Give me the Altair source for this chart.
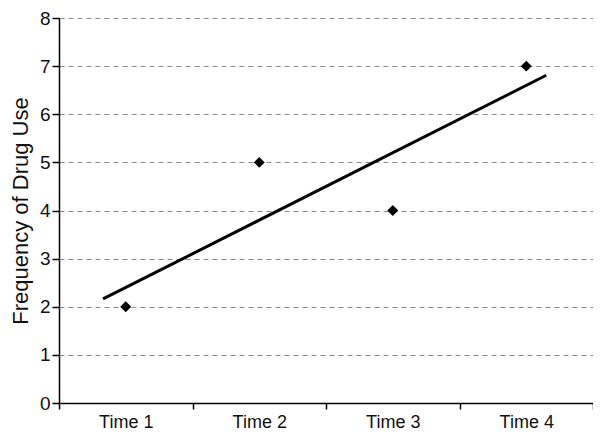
import altair as alt
import pandas as pd

times = ["Time 1", "Time 2", "Time 3", "Time 4"]
time_index = [1, 2, 3, 4]
freq = [2, 5, 4, 7]
y_ticks = [0, 1, 2, 3, 4, 5, 6, 7, 8]
trend_extent = [0.83, 4.15]

df = pd.DataFrame({"time": times, "t": time_index, "freq": freq})

FONT = "Liberation Sans"
y_scale = alt.Scale(domain=[0, 8], nice=False, zero=True)

y_axis = alt.Axis(
    values=y_ticks, title="Frequency of Drug Use", grid=True,
    gridDash=[5, 4], gridColor="#8a8a8a", gridWidth=1,
    tickSize=7, tickColor="black", tickWidth=1.5,
    domainColor="black", domainWidth=1.5,
    labelFontSize=19, labelFont=FONT, labelColor="#111111", labelPadding=2,
    titleFontSize=22, titleFont=FONT, titleFontWeight="normal",
    titleColor="#111111", titlePadding=7,
)

x_axis = alt.Axis(
    title=None, labelAngle=0, grid=False, tickBand="extent",
    tickSize=6, tickColor="black", tickWidth=1.5,
    domainColor="black", domainWidth=1.5,
    labelFontSize=18, labelFont=FONT, labelColor="#111111", labelPadding=4,
)

points = alt.Chart(df).mark_point(
    shape="diamond", filled=True, size=120, color="black", opacity=1
).encode(
    x=alt.X("time:N", sort=times,
            scale=alt.Scale(paddingInner=0, paddingOuter=0), axis=x_axis),
    y=alt.Y("freq:Q", scale=y_scale, axis=y_axis),
)

line = alt.Chart(df).transform_regression(
    "t", "freq", extent=trend_extent
).mark_line(color="black", strokeWidth=3).encode(
    x=alt.X("t:Q", scale=alt.Scale(domain=[0.5, 4.5], nice=False, zero=False), axis=None),
    y=alt.Y("freq:Q", scale=y_scale),
)

chart = alt.layer(line, points).resolve_scale(x="independent").properties(
    width=534, height=385,
    autosize=alt.AutoSizeParams(type="none"),
    padding={"left": 51, "top": 10, "right": 0, "bottom": 31},
    background="white",
).configure_view(stroke="transparent")

chart.save("out.html", embed_options={"renderer": "svg", "actions": False})
